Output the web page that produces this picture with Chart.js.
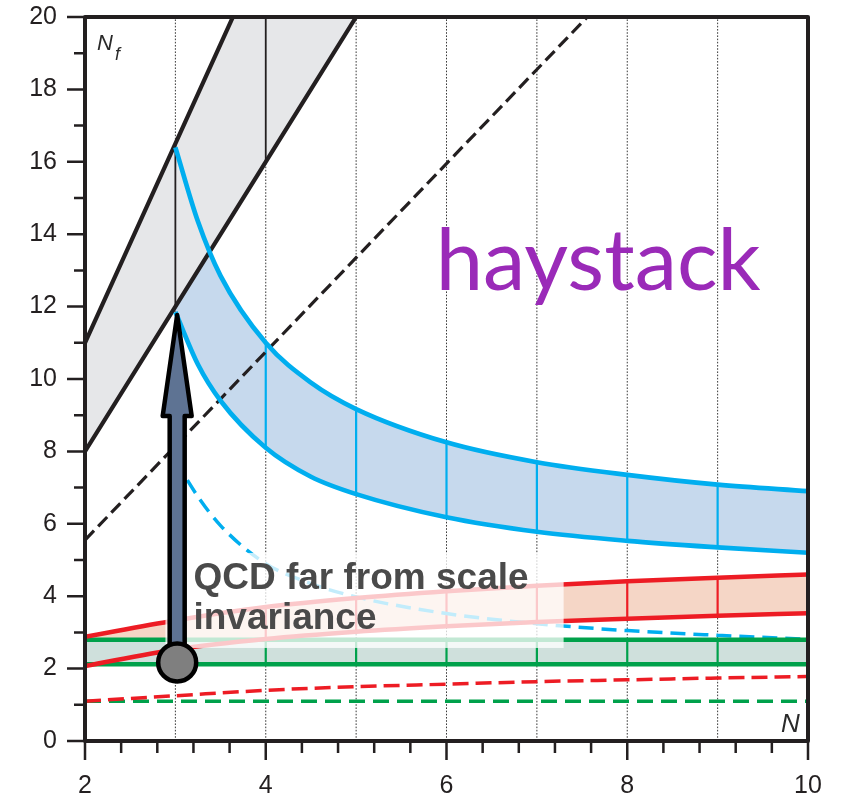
<!DOCTYPE html>
<html>
<head>
<meta charset="utf-8">
<script src="https://cdn.jsdelivr.net/npm/chart.js@4.4.1/dist/chart.umd.min.js"></script>
<style>
  html, body { margin: 0; padding: 0; background: #fff; }
  #wrap { width: 856px; height: 802px; }
</style>
</head>
<body>
<div id="wrap"><canvas id="plot" width="856" height="802"></canvas></div>
<script>
// ---------- data: flavour number Nf against colour number N ----------
const GRID_N = [3, 4, 5, 6, 7, 8, 9];

// fundamental rep (grey band + black dashed)
const FUND_N        = [2, 3, 4, 5, 6];
const FUND_UPPER    = [11, 16.5, 22, 27.5, 33];
const FUND_LOWER    = [8, 12, 16, 20, 24];
const FUND_DASH_N   = [2, 3, 4, 5, 6, 7, 8];
const FUND_DASHED   = [5.55, 8.15, 10.75, 13.35, 15.95, 18.55, 21.15];
const FUND_DIVIDERS = [3, 4];

// two-index antisymmetric (blue)
const ASYM_N        = [3, 3.25, 3.5, 4, 4.5, 5, 6, 7, 8, 9, 10];
const ASYM_UPPER    = [16.4, 14.35, 12.85, 11.0, 9.9, 9.17, 8.25, 7.7, 7.35, 7.08, 6.9];
const ASYM_LOWER    = [11.85, 10.4, 9.4, 8.1, 7.3, 6.82, 6.18, 5.78, 5.53, 5.35, 5.2];
const ASYM_DASHED   = [7.75, 6.75, 5.95, 4.9, 4.35, 3.98, 3.52, 3.24, 3.05, 2.92, 2.81];
const ASYM_DIVIDERS = [4, 5, 6, 7, 8, 9];

// two-index symmetric (red)
const SYM_N         = [2, 3, 4, 5, 6, 7, 8, 9, 10];
const SYM_UPPER     = [2.88, 3.33, 3.7, 3.95, 4.14, 4.29, 4.41, 4.51, 4.6];
const SYM_LOWER     = [2.07, 2.53, 2.82, 3.02, 3.17, 3.29, 3.38, 3.46, 3.53];
const SYM_DASHED    = [1.1, 1.25, 1.4, 1.5, 1.57, 1.64, 1.69, 1.74, 1.78];
const SYM_DIVIDERS  = [3, 4, 5, 6, 7, 8, 9];

// adjoint (green)
const ADJ_N         = [2, 3, 4, 5, 6, 7, 8, 9, 10];
const ADJ_UPPER     = [2.8, 2.8, 2.8, 2.8, 2.8, 2.8, 2.8, 2.8, 2.8];
const ADJ_LOWER     = [2.12, 2.12, 2.12, 2.12, 2.12, 2.12, 2.12, 2.12, 2.12];
const ADJ_DASHED    = [1.1, 1.1, 1.1, 1.1, 1.1, 1.1, 1.1, 1.1, 1.1];
const ADJ_DIVIDERS  = [3, 4, 5, 6, 7, 8, 9];

// arrow from real-world QCD up to the window
const ARROW_N    = 3.02;
const ARROW_FROM = 2.17;
const ARROW_TO   = 11.85;

const QCD_TEXT   = ["QCD far from scale", "invariance"];
const QCD_AT     = { x: 3.2, y: 4.2 };
const HAY_TEXT   = "haystack";
const HAY_AT     = { x: 5.88, y: 12.45 };

const X_MIN = 2, X_MAX = 10, Y_MIN = 0, Y_MAX = 20;
const X_MINOR = 0.4, Y_MINOR = 1;

// ---------- colours ----------
const INK    = "#231f20";
const GREY   = { line: INK,       fill: "#e6e7e9" };
const BLUE   = { line: "#00aeef", fill: "#c6d9ed" };
const RED    = { line: "#ed1c24", fill: "#f5d6c6" };
const GREEN  = { line: "#00a14b", fill: "#cfe0dc" };
const FONT   = "'Liberation Sans', Arial, sans-serif";

const pts = (xs, ys) => xs.map((x, i) => ({ x, y: ys[i] }));

const datasets = [];
function add(ds) {
  datasets.push(Object.assign({
    pointRadius: 0, borderWidth: 4.5, fill: false, tension: 0
  }, ds));
  return datasets.length - 1;
}

// dotted grid at integer N
GRID_N.forEach(n => add({
  data: [{ x: n, y: Y_MIN }, { x: n, y: Y_MAX }],
  borderColor: "#3a3a3a", borderWidth: 1, borderDash: [1.6, 1.6], order: 90
}));

// one band = two boundary lines, a fill between them and vertical dividers
function band(ns, up, lo, col, dividers, curved, fillOrder, lw) {
  const interp = curved ? { cubicInterpolationMode: "monotone" } : {};
  const loIdx = add(Object.assign({ data: pts(ns, lo), borderColor: col.line, borderWidth: lw, order: 40 }, interp));
  add(Object.assign({ data: pts(ns, up), borderColor: col.line, borderWidth: lw, order: 40 }, interp));
  add(Object.assign({
    data: pts(ns, up), borderWidth: 0, borderColor: "rgba(0,0,0,0)",
    backgroundColor: col.fill, fill: loIdx, order: fillOrder
  }, interp));
  dividers.forEach(n => {
    const i = ns.indexOf(n);
    add({
      data: [{ x: n, y: lo[i] }, { x: n, y: up[i] }],
      borderColor: col.line, borderWidth: col === GREY ? 1.8 : 2.2, order: 60
    });
  });
}

band(ASYM_N, ASYM_UPPER, ASYM_LOWER, BLUE, ASYM_DIVIDERS, true, 80, 4.7);
band(FUND_N, FUND_UPPER, FUND_LOWER, GREY, FUND_DIVIDERS, false, 79, 4.2);
band(SYM_N, SYM_UPPER, SYM_LOWER, RED, SYM_DIVIDERS, true, 78, 4.5);
band(ADJ_N, ADJ_UPPER, ADJ_LOWER, GREEN, ADJ_DIVIDERS, false, 77, 4.5);

// dashed lower estimates
add({ data: pts(FUND_DASH_N, FUND_DASHED), borderColor: INK, borderWidth: 3.2, borderDash: [13, 6], order: 50 });
add({ data: pts(ASYM_N, ASYM_DASHED), borderColor: BLUE.line, borderWidth: 3.5, borderDash: [15, 8], cubicInterpolationMode: "monotone", order: 50 });
add({ data: pts(SYM_N, SYM_DASHED), borderColor: RED.line, borderWidth: 3.5, borderDash: [16, 7], cubicInterpolationMode: "monotone", order: 50 });
add({ data: pts(ADJ_N, ADJ_DASHED), borderColor: GREEN.line, borderWidth: 3.5, borderDash: [16, 8], order: 50 });

// ---------- overlay: label box, arrow, frame, ticks, names ----------
const decor = {
  id: "decor",
  afterDatasetsDraw(chart) {
    const { ctx, chartArea: a, scales: { x: xs, y: ys } } = chart;
    ctx.save();

    // "haystack"
    ctx.fillStyle = "#9a2ab8";
    ctx.font = "85px Lato, 'Open Sans', sans-serif";
    ctx.textBaseline = "alphabetic";
    ctx.fillText(HAY_TEXT, xs.getPixelForValue(HAY_AT.x), ys.getPixelForValue(HAY_AT.y));

    // washed-out box behind the QCD caption
    const tx = xs.getPixelForValue(QCD_AT.x), ty = ys.getPixelForValue(QCD_AT.y);
    ctx.font = "bold 37px " + FONT;
    const tw = Math.max(...QCD_TEXT.map(t => ctx.measureText(t).width));
    ctx.fillStyle = "rgba(255,255,255,0.76)";
    ctx.fillRect(tx - 28, ty - 36, tw + 63, 95);
    ctx.fillStyle = "#4a4a4a";
    QCD_TEXT.forEach((t, i) => ctx.fillText(t, tx, ty + i * 40));

    // arrow
    const ax = xs.getPixelForValue(ARROW_N);
    const yTail = ys.getPixelForValue(ARROW_FROM);
    const yTip = ys.getPixelForValue(ARROW_TO) + 3;
    const headLen = 101, sh = 7.5, hh = 14.5;
    ctx.beginPath();
    ctx.moveTo(ax - sh, yTail);
    ctx.lineTo(ax - sh, yTip + headLen);
    ctx.lineTo(ax - hh, yTip + headLen);
    ctx.lineTo(ax, yTip);
    ctx.lineTo(ax + hh, yTip + headLen);
    ctx.lineTo(ax + sh, yTip + headLen);
    ctx.lineTo(ax + sh, yTail);
    ctx.closePath();
    ctx.fillStyle = "#5e7393";
    ctx.fill();
    ctx.lineWidth = 4.5;
    ctx.lineJoin = "round";
    ctx.strokeStyle = "#000";
    ctx.stroke();
    ctx.beginPath();
    ctx.arc(ax, yTail, 19, 0, Math.PI * 2);
    ctx.fillStyle = "#7f7f7f";
    ctx.fill();
    ctx.lineWidth = 4.5;
    ctx.stroke();

    // ticks
    ctx.strokeStyle = INK;
    ctx.lineWidth = 2.5;
    ctx.lineCap = "butt";
    ctx.beginPath();
    for (let v = Y_MIN; v <= Y_MAX + 1e-9; v += Y_MINOR) {
      const p = ys.getPixelForValue(v);
      const len = Math.round(v) % 2 === 0 ? 18 : 11;
      ctx.moveTo(a.left - len, p);
      ctx.lineTo(a.left, p);
    }
    const nx = Math.round((X_MAX - X_MIN) / X_MINOR);
    for (let k = 0; k <= nx; k++) {
      const p = xs.getPixelForValue(X_MIN + k * X_MINOR);
      const len = k % 5 === 0 ? 19 : 12;
      ctx.moveTo(p, a.bottom);
      ctx.lineTo(p, a.bottom + len);
    }
    ctx.stroke();

    // frame
    ctx.lineWidth = 4;
    ctx.strokeRect(a.left, a.top, a.right - a.left, a.bottom - a.top);

    // axis names inside the frame
    ctx.fillStyle = "#2a2a2a";
    ctx.font = "italic 22px " + FONT;
    ctx.fillText("N", a.left + 12, a.top + 33);
    ctx.font = "italic 18px " + FONT;
    ctx.fillText("f", a.left + 30, a.top + 43);
    ctx.font = "italic 26px " + FONT;
    ctx.fillText("N", a.right - 27, a.bottom - 9);

    ctx.restore();
  }
};

new Chart(document.getElementById("plot"), {
  type: "line",
  data: { datasets },
  options: {
    responsive: false,
    animation: false,
    events: [],
    layout: { padding: { top: 17, right: 48, left: 0, bottom: 0 } },
    plugins: { legend: { display: false }, tooltip: { enabled: false } },
    scales: {
      x: {
        type: "linear", min: X_MIN, max: X_MAX,
        grid: { display: false, drawTicks: false },
        border: { display: false },
        ticks: { stepSize: 2, padding: 30, color: INK, font: { family: FONT, size: 25 } },
        afterFit: s => { s.height = 61; s.paddingLeft = 0; s.paddingRight = 0; }
      },
      y: {
        min: Y_MIN, max: Y_MAX,
        grid: { display: false, drawTicks: false },
        border: { display: false },
        ticks: { stepSize: 2, padding: 28, color: INK, font: { family: FONT, size: 25 } },
        afterFit: s => { s.width = 85; s.paddingTop = 0; s.paddingBottom = 0; }
      }
    }
  },
  plugins: [decor]
});
</script>
</body>
</html>
